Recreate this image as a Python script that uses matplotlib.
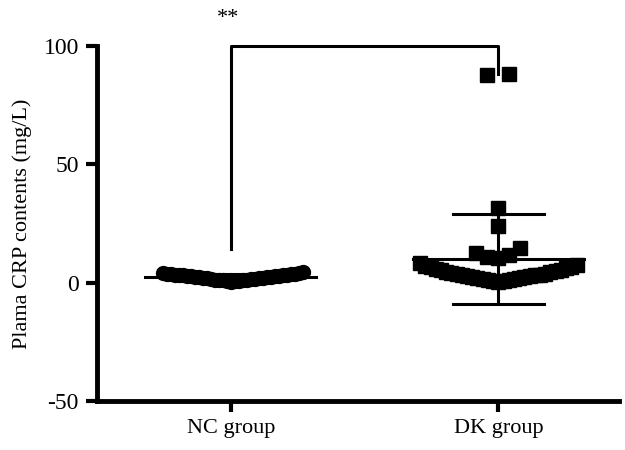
import numpy as np
import matplotlib
matplotlib.use("Agg")
import matplotlib.pyplot as plt

# ----- data -----
groups = ["NC group", "DK group"]
nc_vals = [0.3, 0.5, 0.6, 0.8, 0.9, 1.0, 1.1, 1.2, 1.3, 1.5, 1.6, 1.7, 1.8, 1.9,
           2.0, 2.1, 2.2, 2.3, 2.4, 2.5, 2.6, 2.7, 2.8, 2.9, 3.0, 3.1, 3.2, 3.3,
           3.4, 3.5, 3.6, 3.7, 3.8, 4.0, 4.2, 4.5]
dk_vals = [88.0, 87.5, 31.5, 24.0, 14.5, 12.5, 11.5, 11.0, 10.5,
           0.4, 0.6, 0.8, 1.0, 1.2, 1.4, 1.6, 1.8, 2.0, 2.2, 2.4, 2.6, 2.8,
           3.0, 3.2, 3.4, 3.6, 3.8, 4.0, 4.3, 4.6, 4.9, 5.2, 5.5, 5.8, 6.1,
           6.4, 6.8, 7.2, 7.6, 8.2]
sig_label = "**"
bracket_low = [14.0, 88.0]   # bracket leg ends (NC, DK)
bracket_top = 100.0

plt.rcParams["font.family"] = ["Liberation Serif", "DejaVu Serif"]

fig = plt.figure(figsize=(6.25, 4.5), dpi=100)
ax = fig.add_axes([0.155, 0.109, 0.835, 0.789])
ax.set_xlim(0.5, 2.45)
ax.set_ylim(-50, 100)

MS = 10  # marker size in points
UNIT_PX = 267.0  # pixels per x unit (approx.)


def spread(vals, center, band_max=9.0, band_step=4.6, row_h=5.0):
    """GraphPad-like scatter: dense low values fan out as a V (lowest in the
    middle), sparse values are laid out in centred rows."""
    vals = np.asarray(vals, dtype=float)
    xs = np.full(len(vals), float(center))
    band = np.where(vals < band_max)[0]
    band = band[np.argsort(vals[band])]
    for r, i in enumerate(band):
        k = (r + 1) // 2
        sign = 1 if r % 2 else -1
        xs[i] = center + sign * k * band_step / UNIT_PX
    rest = np.where(vals >= band_max)[0]
    rest = rest[np.argsort(vals[rest])]
    rows = []
    for i in rest:
        if rows and vals[i] - vals[rows[-1][0]] < row_h:
            rows[-1].append(i)
        else:
            rows.append([i])
    for row in rows:
        n = len(row)
        step = 22.0 if n == 2 else 11.0
        slots = sorted([j - (n - 1) / 2 for j in range(n)], key=lambda s: (abs(s), s))
        for s, i in zip(slots, row):
            xs[i] = center + s * step / UNIT_PX
    return xs


nc_x = spread(nc_vals, 1, band_step=4.0)
dk_x = spread(dk_vals, 2, band_step=5.2)

ax.plot(nc_x, nc_vals, "o", color="black", ms=MS, zorder=3)
ax.plot(dk_x, dk_vals, "s", color="black", ms=MS, zorder=3)

# mean and SD
for xc, vals in [(1, nc_vals), (2, dk_vals)]:
    m = np.mean(vals)
    sd = np.std(vals, ddof=1)
    ax.plot([xc - 0.32, xc + 0.32], [m, m], color="black", lw=2.2, zorder=4)
    ax.plot([xc, xc], [m - sd, m + sd], color="black", lw=2.2, zorder=4)
    for y in (m - sd, m + sd):
        ax.plot([xc - 0.17, xc + 0.17], [y, y], color="black", lw=2.2, zorder=4)

# significance bracket
ax.plot([1, 1, 2, 2], [bracket_low[0], bracket_top, bracket_top, bracket_low[1]],
        color="black", lw=2.2, clip_on=False, zorder=5)
ax.text(0.99, 111.5, sig_label, ha="center", va="center", fontsize=16)

ax.set_xticks([1, 2])
ax.set_xticklabels(groups, fontsize=16)
ax.set_yticks([-50, 0, 50, 100])
ax.set_yticklabels(["-50", "0", "50", "100"], fontsize=17)
ax.set_ylabel("Plama CRP contents (mg/L)", fontsize=16, labelpad=8)

for side in ("top", "right"):
    ax.spines[side].set_visible(False)
for side in ("left", "bottom"):
    ax.spines[side].set_linewidth(3.5)
ax.tick_params(width=3.0, length=8, pad=5)

fig.savefig("out.png", dpi=100)
